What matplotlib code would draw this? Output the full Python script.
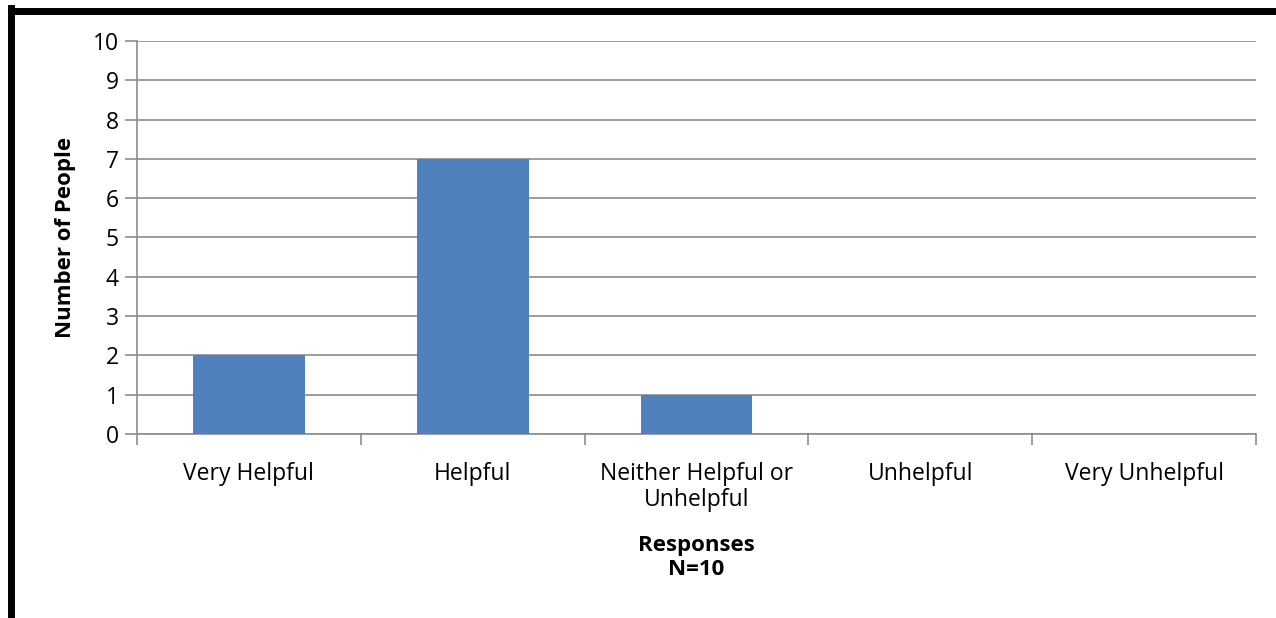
import numpy as np
import matplotlib.pyplot as plt
from matplotlib.lines import Line2D

categories = ["Very Helpful", "Helpful", "Neither Helpful or\nUnhelpful", "Unhelpful", "Very Unhelpful"]
counts = [2, 7, 1, 0, 0]
y_ticks = list(range(0, 11))

W, H = 1276, 618
fig = plt.figure(figsize=(W / 100, H / 100), dpi=100)
plt.rcParams['font.family'] = ['Open Sans', 'DejaVu Sans']

# plot area in pixels
left, right, top, bottom = 137, 1256, 41, 434
ax = fig.add_axes([left / W, 1 - bottom / H, (right - left) / W, (bottom - top) / H])

x = np.arange(len(categories))
ax.bar(x, counts, width=0.5, color='#4F81BD', zorder=3)

ax.set_xlim(-0.5, len(categories) - 0.5)
ax.set_ylim(0, 10)
ax.set_yticks(y_ticks)
ax.yaxis.grid(True, color='#8C8C8C', linewidth=1.2, zorder=0)
ax.tick_params(axis='y', length=9, width=1.2, color='#8C8C8C', labelsize=16.5, pad=4)

# category boundaries as ticks
ax.set_xticks(np.arange(-0.5, len(categories)), minor=False)
ax.set_xticklabels([])
ax.set_xticks(x, minor=True)
ax.set_xticklabels(categories, minor=True, fontsize=16.5, linespacing=1.15)
ax.tick_params(axis='x', which='major', length=8, width=1.2, color='#8C8C8C', direction='out')
ax.tick_params(axis='x', which='minor', length=0, pad=20)

for s in ['top', 'right']:
    ax.spines[s].set_visible(False)
for s in ['left', 'bottom']:
    ax.spines[s].set_color('#8C8C8C')
    ax.spines[s].set_linewidth(1.2)

ax.set_ylabel("Number of People", fontsize=16, fontweight='bold', labelpad=12)
ax.set_xlabel("Responses\nN=10", fontsize=16, fontweight='bold', labelpad=16, linespacing=1.2)

# black frame on top and left
fig.add_artist(Line2D([11 / W, 11 / W], [0, 1 - 8 / H], color='black', linewidth=5,
                      transform=fig.transFigure, solid_capstyle='projecting'))
fig.add_artist(Line2D([11 / W, 1], [1 - 11 / H, 1 - 11 / H], color='black', linewidth=5,
                      transform=fig.transFigure))

fig.savefig("out.png", dpi=100)
